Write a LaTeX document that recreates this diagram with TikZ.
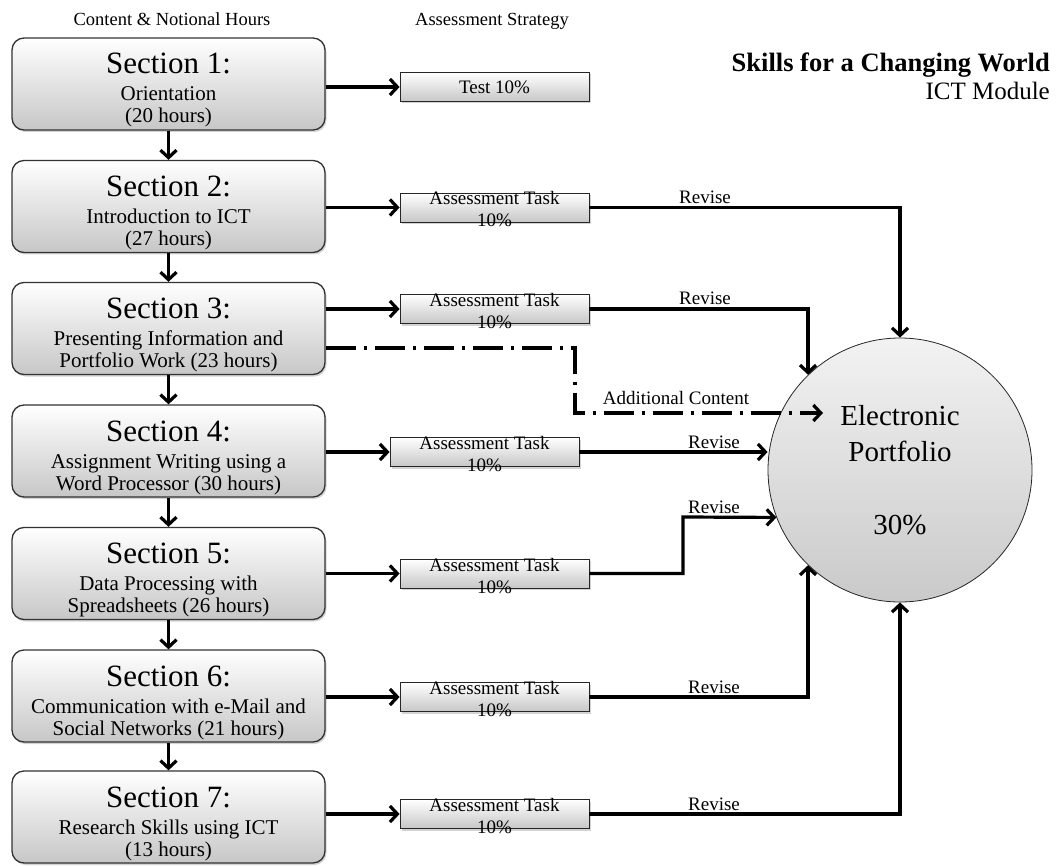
\documentclass[tikz,border=0pt]{standalone}
\usepackage{fontspec}
\setmainfont{Liberation Serif}
\usetikzlibrary{arrows.meta,shadows}
\tikzset{secbox/.style={draw=black!80, line width=1.3pt, rounded corners=12pt,
      top color=white, bottom color=black!22,
      drop shadow={shadow xshift=1.5pt, shadow yshift=-2pt, opacity=.35},
      minimum width=313pt, minimum height=92pt, inner sep=0pt,
      text height=36pt, text depth=56pt, font=\fontsize{21}{22}\selectfont}}
\tikzset{taskbox/.style={draw=black!85, line width=.8pt,
      top color=white, bottom color=black!22,
      drop shadow={shadow xshift=1.5pt, shadow yshift=-2pt, opacity=.35},
      minimum width=189pt, minimum height=29pt, inner sep=0pt,
      font=\fontsize{19}{22}\selectfont}}
\tikzset{twoline/.style={text height=12pt, text depth=17pt}}
\tikzset{folio/.style={circle, draw=black!85, line width=.8pt,
      top color=black!5, bottom color=black!21,
      minimum size=264pt, inner sep=0pt, align=center,
      font=\fontsize{29}{36.5}\selectfont}}
\tikzset{head/.style={font=\fontsize{18.5}{22}\selectfont, inner sep=0pt, anchor=base}}
\tikzset{lbl/.style={font=\fontsize{19}{22}\selectfont, inner sep=0pt, anchor=base, yshift=4pt}}
\tikzset{arr/.style={line width=3.2pt, -{Straight Barb[length=7.5pt,width=16pt]}}}
\tikzset{addline/.style={arr, dash pattern=on 30pt off 8pt on 3pt off 8pt}}
\newcommand{\sectxt}[3]{\begin{tabular}[t]{@{}c@{}}{\fontsize{31}{31}\selectfont #1}\\[5pt]#2\\#3\end{tabular}}
\newcommand{\tasktxt}{\begin{tabular}[t]{@{}c@{}}Assessment Task\\10\%\end{tabular}}

\begin{document}
\begin{tikzpicture}[x=1pt,y=-1pt]
    \useasboundingbox (0,0) rectangle (1056,866);
    % headings
    \node[head] (hcontent) at (172,26) {Content \& Notional Hours};
    \node[head] (hassess) at (492,26) {Assessment Strategy};
    \node[anchor=base east, inner sep=0pt, font=\fontsize{26.5}{30}\selectfont\bfseries] (title) at (1050,72) {Skills for a Changing World};
    \node[anchor=base east, inner sep=0pt, font=\fontsize{25}{30}\selectfont] (module) at (1050,100) {ICT Module};
    % sections
    \node[secbox] (s1) at (168.5,84) {\sectxt{Section 1:}{Orientation}{(20 hours)}};
    \node[secbox] (s2) at (168.5,206.5) {\sectxt{Section 2:}{Introduction to ICT}{(27 hours)}};
    \node[secbox] (s3) at (168.5,328.5) {\sectxt{Section 3:}{Presenting Information and}{Portfolio Work (23 hours)}};
    \node[secbox] (s4) at (168.5,451) {\sectxt{Section 4:}{Assignment Writing using a}{Word Processor (30 hours)}};
    \node[secbox] (s5) at (168.5,573.5) {\sectxt{Section 5:}{Data Processing with}{Spreadsheets (26 hours)}};
    \node[secbox] (s6) at (168.5,696) {\sectxt{Section 6:}{Communication with e-Mail and}{Social Networks (21 hours)}};
    \node[secbox] (s7) at (168.5,817) {\sectxt{Section 7:}{Research Skills using ICT}{(13 hours)}};
    % assessment tasks
    \node[taskbox] (t1) at (494.5,87) {Test 10\%};
    \node[taskbox, twoline] (t2) at (494.5,207.5) {\tasktxt};
    \node[taskbox, twoline] (t3) at (494.5,309) {\tasktxt};
    \node[taskbox, twoline] (t4) at (484.5,452) {\tasktxt};
    \node[taskbox, twoline] (t5) at (494.5,573.5) {\tasktxt};
    \node[taskbox, twoline] (t6) at (494.5,697) {\tasktxt};
    \node[taskbox, twoline] (t7) at (494.5,814) {\tasktxt};
    % portfolio
    \node[folio] (port) at (900,470) {Electronic\\Portfolio\\[36.5pt]30\%};
    \coordinate (c5) at (683,517);
    \coordinate (bend) at (575,413);
    \coordinate (addin) at (823,413);

    \draw[arr] (s1) -- (s2);
    \draw[arr] (s2) -- (s3);
    \draw[arr] (s3) -- (s4);
    \draw[arr] (s4) -- (s5);
    \draw[arr] (s5) -- (s6);
    \draw[arr] (s6) -- (s7);

    \draw[arr] (s1.east |- t1.west) -- (t1.west);
    \draw[arr] (s2.east |- t2.west) -- (t2.west);
    \draw[arr] (s3.east |- t3.west) -- (t3.west);
    \draw[arr] (s4.east |- t4.west) -- (t4.west);
    \draw[arr] (s5.east |- t5.west) -- (t5.west);
    \draw[arr] (s6.east |- t6.west) -- (t6.west);
    \draw[arr] (s7.east |- t7.west) -- (t7.west);

    \draw[arr] (t2.east) -- (t2.east -| port.north) -- (port.north);
    \draw[arr] (t3.east) -- (t3.east -| port.134) -- (port.134);
    \draw[arr] (t4.east) -- (t4.east -| port.west);
    \draw[arr] (t5.east) -| (c5) -- (port.201);
    \draw[arr] (t6.east) -- (t6.east -| port.226) -- (port.226);
    \draw[arr] (t7.east) -- (t7.east -| port.south) -- (port.south);
    \draw[addline] ([yshift=-19.5pt]s3.east) -| (bend) -- (addin);

    \node[lbl] (r2) at (705,208) {Revise};
    \node[lbl] (r3) at (705,309) {Revise};
    \node[lbl] (r4) at (714,452) {Revise};
    \node[lbl] (r5) at (714,517) {Revise};
    \node[lbl] (r6) at (714,697) {Revise};
    \node[lbl] (r7) at (714,814) {Revise};
    \node[lbl, yshift=4.5pt] (addl) at (676,413) {Additional Content};
\end{tikzpicture}
\end{document}
